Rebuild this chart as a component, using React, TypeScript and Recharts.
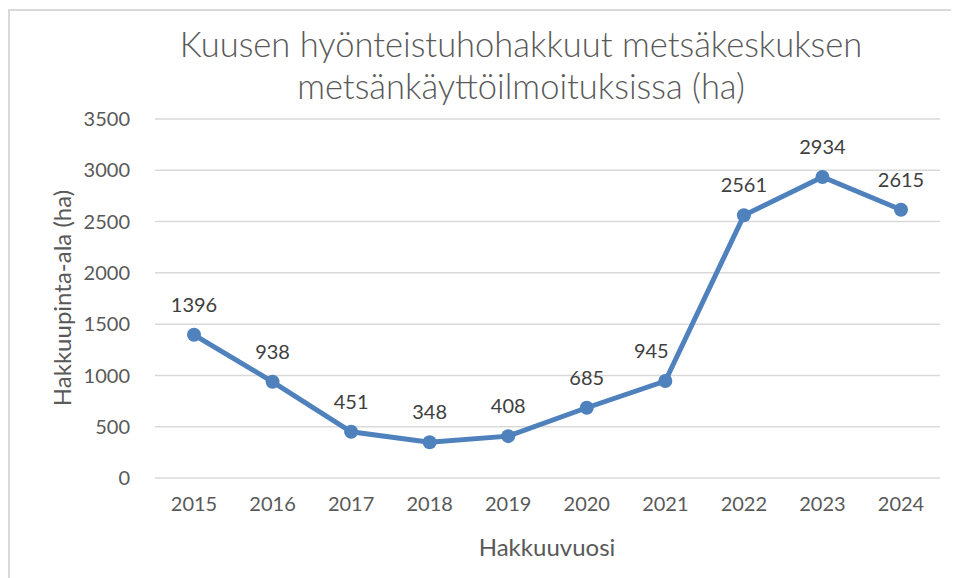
import React from "react";
import { LineChart, Line, XAxis, YAxis, CartesianGrid, LabelList } from "recharts";

const years = ["2015", "2016", "2017", "2018", "2019", "2020", "2021", "2022", "2023", "2024"];
const areas = [1396, 938, 451, 348, 408, 685, 945, 2561, 2934, 2615];
const yTicks = [0, 500, 1000, 1500, 2000, 2500, 3000, 3500];

const titleLines = ["Kuusen hyönteistuhohakkuut metsäkeskuksen", "metsänkäyttöilmoituksissa (ha)"];
const xLabel = "Hakkuuvuosi";
const yLabel = "Hakkuupinta-ala (ha)";

const data = years.map((y, i) => ({ year: y, value: areas[i] }));

const FONT = "Lato, 'Noto Sans', sans-serif";
const TEXT = "#595959";

// Label placed above the point; nudged left when the following segment rises
// steeply and would otherwise run through the text.
const PointLabel = (props: any) => {
  const { x, y, value, index } = props;
  const next = index + 1 < areas.length ? areas[index + 1] : value;
  const steep = next - value > 1000;
  return (
    <text
      x={x + (steep ? -14 : 0)}
      y={y - 23}
      textAnchor="middle"
      fill="#404040"
      fontSize={20}
      fontFamily={FONT}
    >
      {value}
    </text>
  );
};

export default function App() {
  return (
    <div style={{ position: "relative", width: 951, height: 570, fontFamily: FONT }}>
      <div
        style={{
          position: "absolute",
          left: 0,
          top: 1,
          width: 960,
          height: 580,
          borderLeft: "2px solid #d9d9d9",
          borderTop: "2px solid #d9d9d9",
          boxSizing: "border-box",
        }}
      />
      <div
        style={{
          position: "absolute",
          left: 513 - 400,
          top: 15,
          width: 800,
          textAlign: "center",
          fontSize: 34.5,
          fontWeight: 300,
          lineHeight: "42px",
          color: TEXT,
        }}
      >
        {titleLines.map((t) => (
          <div key={t}>{t}</div>
        ))}
      </div>
      <div
        style={{
          position: "absolute",
          left: 539 - 150,
          top: 524,
          width: 300,
          textAlign: "center",
          fontSize: 24,
          color: TEXT,
        }}
      >
        {xLabel}
      </div>
      <div
        style={{
          position: "absolute",
          left: 54 - 150,
          top: 290 - 15,
          width: 300,
          height: 30,
          lineHeight: "30px",
          textAlign: "center",
          fontSize: 24,
          color: TEXT,
          transform: "rotate(-90deg)",
        }}
      >
        {yLabel}
      </div>
      <div style={{ position: "absolute", left: 0, top: 0 }}>
        <LineChart width={951} height={570} data={data} margin={{ top: 111, right: 19, left: 47, bottom: 40 }}>
          <CartesianGrid vertical={false} stroke="#d9d9d9" strokeWidth={1.5} />
          <XAxis
            dataKey="year"
            axisLine={false}
            tickLine={false}
            padding={{ left: 39, right: 39 }}
            tick={{ fill: TEXT, fontSize: 20, fontFamily: FONT }}
            tickMargin={13}
            height={60}
            interval={0}
          />
          <YAxis
            domain={[0, 3500]}
            ticks={yTicks}
            axisLine={false}
            tickLine={false}
            tick={{ fill: TEXT, fontSize: 20, fontFamily: FONT }}
            tickMargin={19}
            width={100}
            interval={0}
          />
          <Line
            type="linear"
            dataKey="value"
            stroke="#4F81BD"
            strokeWidth={5}
            dot={{ r: 7, fill: "#4F81BD", stroke: "#4F81BD", strokeWidth: 0 }}
            isAnimationActive={false}
          >
            <LabelList dataKey="value" content={PointLabel} />
          </Line>
        </LineChart>
      </div>
    </div>
  );
}
